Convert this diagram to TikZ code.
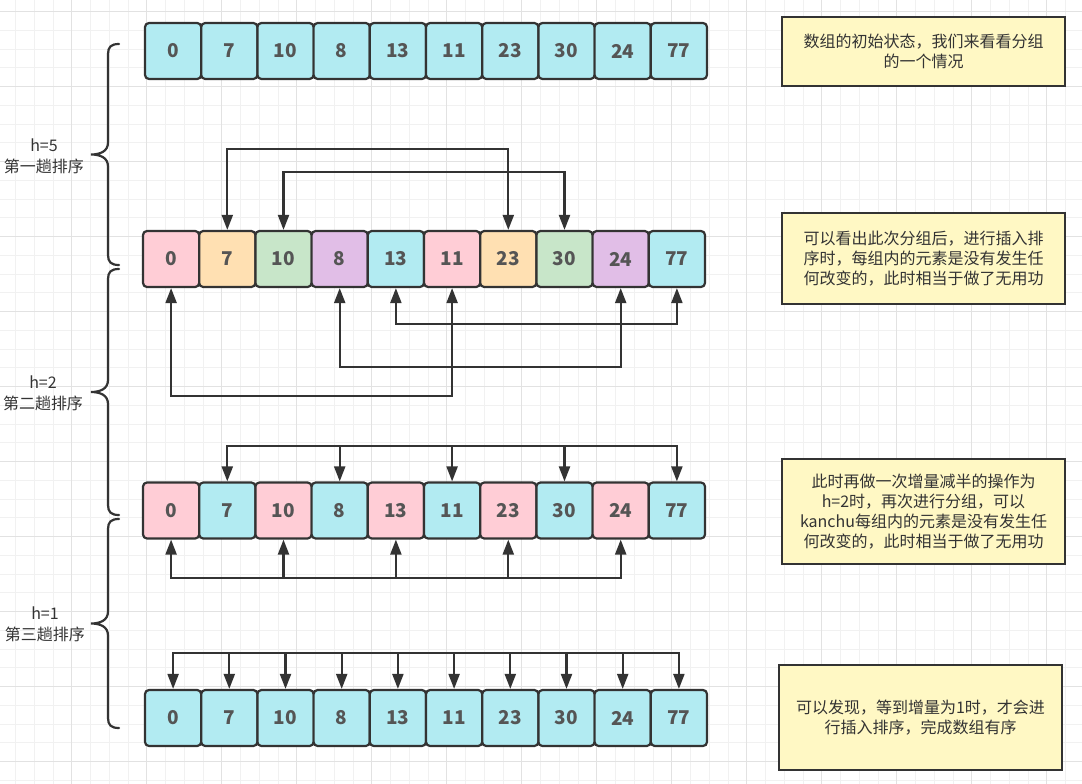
\documentclass[tikz,border=0pt]{standalone}
\usepackage{fontspec}
\setmainfont{Noto Sans CJK SC}
\usetikzlibrary{arrows.meta}
\definecolor{lineDark}{HTML}{333333}
\definecolor{digitGray}{HTML}{555555}
\definecolor{cellCyan}{HTML}{B2EBF2}
\definecolor{cellPink}{HTML}{FFCDD6}
\definecolor{cellOrange}{HTML}{FFE0B2}
\definecolor{cellGreen}{HTML}{C8E6C9}
\definecolor{cellPurple}{HTML}{E1BEE7}
\definecolor{noteYellow}{HTML}{FFF8C4}
\definecolor{gridMinor}{HTML}{F1F1F1}
\definecolor{gridMajor}{HTML}{E2E2E2}
\begin{document}
\begin{tikzpicture}
[x=1pt,y=-1pt,>={Triangle[length=15pt,width=11pt]},%
  cellBox/.style={shape=rectangle,rounded corners=4pt,draw=lineDark,line width=2.2pt,minimum width=56.2pt,minimum height=56pt,inner sep=0pt,font=\fontsize{19}{19}\selectfont\bfseries,text=digitGray},%
  noteBox/.style={shape=rectangle,draw=lineDark,line width=2.2pt,fill=noteYellow,minimum width=283pt,align=center,font=\fontsize{16}{20}\selectfont,text=lineDark},%
  passLabel/.style={align=center,font=\fontsize{16}{21}\selectfont,text=lineDark},%
  darkArrow/.style={->,line width=2.2pt,color=lineDark},%
  darkBiArrow/.style={<->,line width=2.2pt,color=lineDark},%
  braceLine/.style={line width=2.2pt,color=lineDark,line cap=round}]
\useasboundingbox (0,0) rectangle (1082,784);
%% background grid
\fill[white] (0,0) rectangle (1082,784);
\foreach \x in {15.7,34.45,...,1082} {\draw[gridMinor,line width=1pt] (\x,0) -- (\x,784);}
\foreach \y in {11.7,30.45,...,784} {\draw[gridMinor,line width=1pt] (0,\y) -- (1082,\y);}
\foreach \x in {71.7,146.7,...,1082} {\draw[gridMajor,line width=1pt] (\x,0) -- (\x,784);}
\foreach \y in {11.7,86.7,...,784} {\draw[gridMajor,line width=1pt] (0,\y) -- (1082,\y);}
%% array rows
\foreach \val [count=\i] in {0,7,10,8,13,11,23,30,24,77}
{
  \node (a\i) at (116.9+56.2*\i,51) [cellBox,fill=cellCyan] {\val};
  \node (d\i) at (116.9+56.2*\i,718) [cellBox,fill=cellCyan] {\val};
}
\foreach \val/\colr [count=\i] in {0/cellPink,7/cellOrange,10/cellGreen,8/cellPurple,13/cellCyan,11/cellPink,23/cellOrange,30/cellGreen,24/cellPurple,77/cellCyan}
{
  \node (b\i) at (114.9+56.2*\i,259) [cellBox,fill=\colr] {\val};
}
\foreach \val/\colr [count=\i] in {0/cellPink,7/cellCyan,10/cellPink,8/cellCyan,13/cellPink,11/cellCyan,23/cellPink,30/cellCyan,24/cellPink,77/cellCyan}
{
  \node (c\i) at (114.9+56.2*\i,510.5) [cellBox,fill=\colr] {\val};
}
%% bus lines
\coordinate (busA) at (0,149);
\coordinate (busB) at (0,172);
\coordinate (busC) at (0,324);
\coordinate (busD) at (0,367);
\coordinate (busE) at (0,396);
\coordinate (busF) at (0,446);
\coordinate (busG) at (0,578);
\coordinate (busH) at (0,653);
%% h=5 groups
\foreach \startnode/\endnode/\bus in {b2/b7/busA, b3/b8/busB}
{
  \draw[darkBiArrow] (\startnode.north) -- (\startnode.north |- \bus) -| (\endnode.north);
}
\foreach \startnode/\endnode/\bus in {b5/b10/busC, b4/b9/busD, b1/b6/busE}
{
  \draw[darkBiArrow] (\startnode.south) -- (\startnode.south |- \bus) -| (\endnode.south);
}
%% h=2 groups
\draw[darkBiArrow] (c2.north) -- (c2.north |- busF) -| (c10.north);
\foreach \i in {4,6,8}
{
  \draw[darkArrow] (c\i.north |- busF) -- (c\i.north);
}
\draw[darkBiArrow] (c1.south) -- (c1.south |- busG) -| (c9.south);
\foreach \i in {3,5,7}
{
  \draw[darkArrow] (c\i.south |- busG) -- (c\i.south);
}
%% h=1 group
\draw[darkBiArrow] (d1.north) -- (d1.north |- busH) -| (d10.north);
\foreach \i in {2,...,9}
{
  \draw[darkArrow] (d\i.north |- busH) -- (d\i.north);
}
%% braces and pass labels
\foreach \top/\bot in {44/265, 269/515, 519/728}
{
  \pgfmathsetmacro\tipY{(\top+\bot)/2}
  \draw[braceLine] (119,\top) .. controls (111,\top) and (108,\top+3) .. (108,\top+10)
    -- (108,\tipY-12) .. controls (108,\tipY-3) and (100,\tipY) .. (91,\tipY)
    .. controls (100,\tipY) and (108,\tipY+3) .. (108,\tipY+12)
    -- (108,\bot-10) .. controls (108,\bot-3) and (111,\bot) .. (119,\bot);
}
\node (passOne) at (44,156) [passLabel] {h=5\\第一趟排序};
\node (passTwo) at (43,393) [passLabel] {h=2\\第二趟排序};
\node (passThree) at (45,624) [passLabel] {h=1\\第三趟排序};
%% notes
\node (noteInit) at (923.5,51.5) [noteBox,minimum height=69pt] {数组的初始状态，我们来看看分组\\的一个情况};
\node (noteFive) at (923.5,258.5) [noteBox,minimum height=91pt] {可以看出此次分组后，进行插入排\\序时，每组内的元素是没有发生任\\何改变的，此时相当于做了无用功};
\node (noteTwo) at (923.5,511.5) [noteBox,minimum height=105pt] {此时再做一次增量减半的操作为\\h=2时，再次进行分组，可以\\kanchu每组内的元素是没有发生任\\何改变的，此时相当于做了无用功};
\node (noteOne) at (920.5,717.5) [noteBox,minimum height=105pt] {可以发现，等到增量为1时，才会进\\行插入排序，完成数组有序};
\end{tikzpicture}
\end{document}
